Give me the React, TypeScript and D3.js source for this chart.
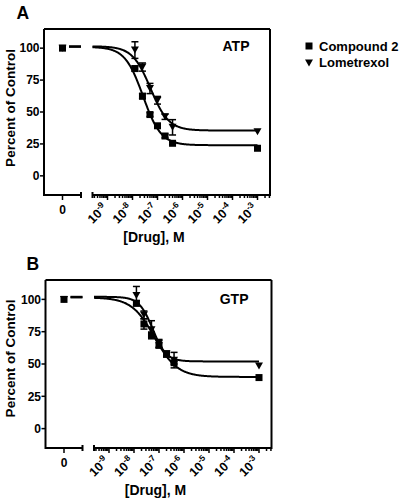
import React from "react";
import * as d3 from "d3";

// ---------- data ----------
const concentrations = [1.25e-8, 2.5e-8, 5e-8, 1e-7, 2e-7, 4e-7, 1e-3];
const controlValue = 100;

const atpCompound2 = [84, 62.4, 48, 39.2, 31.2, 25.5, 21.6];
const atpCompound2Err = [2, 2, 1.5, 1.5, 1.5, 1, 0];
const atpLometrexol = [98.5, 85.2, 68.4, 59.2, 46.2, 38, 34.5];
const atpLometrexolErr = [6.5, 3.2, 4, 3, 2, 6, 0];

const gtpCompound2 = [97, 81, 72.5, 64.5, 57.5, 51, 39.5];
const gtpCompound2Err = [2, 4, 2, 2, 2, 1, 0];
const gtpLometrexol = [103, 88, 76.5, 66, 58, 53, 48.5];
const gtpLometrexolErr = [7, 3, 7, 3, 2, 6, 0];

// fitted sigmoid parameters [top, bottom, logIC50, hill]
const atpCompound2Fit = [101, 24, -7.58, 1.2];
const atpLometrexolFit = [101.5, 35.5, -7.28, 1.2];
const gtpCompound2Fit = [101.5, 40, -7.18, 0.95];
const gtpLometrexolFit = [102, 52, -7.25, 1.6];

const yTicks = [0, 25, 50, 75, 100];
const decadeExponents = [-9, -8, -7, -6, -5, -4, -3];
const seriesNames = ["Compound 2", "Lometrexol"];
const panelNames = ["A", "B"];
const nucleotideNames = ["ATP", "GTP"];

// ---------- helpers ----------
const FONT = "'Liberation Sans', Arial, Helvetica, sans-serif";

function sigmoid(p: number[], logx: number) {
  const [top, bottom, logIC50, hill] = p;
  return bottom + (top - bottom) / (1 + Math.pow(10, (logx - logIC50) * hill));
}

function Square({ x, y, s = 7 }: { x: number; y: number; s?: number }) {
  return <rect x={x - s / 2} y={y - s / 2} width={s} height={s} fill="#000" />;
}
function Tri({ x, y, s = 8 }: { x: number; y: number; s?: number }) {
  const h = s * 0.87;
  return (
    <path
      d={`M${x - s / 2},${y - h / 2}L${x + s / 2},${y - h / 2}L${x},${y + h / 2}Z`}
      fill="#000"
    />
  );
}

type PanelProps = {
  dx: number;
  top: number;
  bottom: number;
  letter: string;
  letterX: number;
  letterY: number;
  nucleotide: string;
  nucX: number;
  nucY: number;
  sq: number[];
  sqErr: number[];
  tr: number[];
  trErr: number[];
  sqFit: number[];
  trFit: number[];
  yTitleY: number;
};

function Panel(p: PanelProps) {
  const left = 44 + p.dx;
  const right = 270 + p.dx;
  const seg1 = d3.scaleLinear().domain([-1, 1]).range([left, 81 + p.dx]);
  const x = d3
    .scaleLog()
    .domain([Math.pow(10, -9.6), Math.pow(10, -2.5)])
    .range([92.5 + p.dx, right]);
  const y = d3.scaleLinear().domain([-15, 115]).range([p.bottom, p.top]);
  const axisY = p.bottom;

  const logs = d3.range(-9.6, -3 + 1e-9, 0.02);
  const curvePath = (fit: number[]) =>
    d3
      .line<number>()
      .x((l) => x(Math.pow(10, l)))
      .y((l) => y(sigmoid(fit, l)))(logs) as string;

  const ticks = x.ticks();
  const majorSet = new Set(decadeExponents);

  const errBar = (cx: number, v: number, e: number, key: string) =>
    e > 0 ? (
      <g key={key} stroke="#000" strokeWidth={1.5}>
        <line x1={cx} x2={cx} y1={y(v + e)} y2={y(v - e)} />
        <line x1={cx - 3.5} x2={cx + 3.5} y1={y(v + e)} y2={y(v + e)} />
        <line x1={cx - 3.5} x2={cx + 3.5} y1={y(v - e)} y2={y(v - e)} />
      </g>
    ) : null;

  return (
    <g fontFamily={FONT} fontWeight="bold">
      <text x={p.letterX} y={p.letterY} fontSize={17.5}>
        {p.letter}
      </text>
      {/* frame */}
      <g stroke="#000" strokeWidth={2} fill="none">
        <line x1={left} x2={left} y1={p.top} y2={axisY + 1} />
        <line x1={left} x2={right} y1={p.top} y2={p.top} />
        <line x1={right} x2={right} y1={p.top} y2={axisY + 1} />
        <line x1={left} x2={seg1(1)} y1={axisY} y2={axisY} />
        <line x1={x.range()[0]} x2={right} y1={axisY} y2={axisY} />
        <line x1={seg1(1)} x2={seg1(1)} y1={axisY - 3} y2={axisY + 3} />
        <line x1={x.range()[0]} x2={x.range()[0]} y1={axisY - 3} y2={axisY + 3} />
        <line x1={seg1(0)} x2={seg1(0)} y1={axisY} y2={axisY + 5} strokeWidth={1.5} />
      </g>
      {/* x ticks */}
      <g stroke="#000" strokeWidth={1.5}>
        {ticks.map((t, i) => {
          const e = Math.log10(t);
          const major = Math.abs(e - Math.round(e)) < 1e-6 && majorSet.has(Math.round(e));
          return <line key={i} x1={x(t)} x2={x(t)} y1={axisY} y2={axisY + (major ? 5 : 3)} />;
        })}
      </g>
      <text x={seg1(0)} y={axisY + 19} fontSize={12} textAnchor="middle">
        0
      </text>
      {decadeExponents.map((e) => {
        const tx = x(Math.pow(10, e)) + 0.5;
        const ty = axisY + 14;
        return (
          <text
            key={e}
            transform={`translate(${tx},${ty}) rotate(-45)`}
            textAnchor="end"
            fontSize={12.5}
          >
            10
            <tspan dy={-5} fontSize={8.5}>
              {String(e)}
            </tspan>
          </text>
        );
      })}
      <text x={154 + p.dx} y={axisY + 47} fontSize={14} textAnchor="middle">
        [Drug], M
      </text>
      {/* y ticks */}
      {yTicks.map((t) => (
        <g key={t}>
          <line x1={left - 4} x2={left} y1={y(t)} y2={y(t)} stroke="#000" strokeWidth={1.5} />
          <text x={left - 4.5} y={y(t) + 4.3} fontSize={12} textAnchor="end">
            {t}
          </text>
        </g>
      ))}
      <text
        transform={`translate(14.5,${p.yTitleY}) rotate(-90)`}
        fontSize={13.5}
        textAnchor="middle"
      >
        Percent of Control
      </text>
      <text x={p.nucX} y={p.nucY} fontSize={14} textAnchor="end">
        {p.nucleotide}
      </text>
      {/* curves */}
      <g stroke="#000" strokeWidth={2} fill="none">
        <path d={curvePath(p.sqFit)} />
        <path d={curvePath(p.trFit)} />
        <line x1={seg1(0.35)} x2={seg1(1)} y1={y(p.sqFit[0])} y2={y(p.sqFit[0])} />
        <line x1={seg1(0.35)} x2={seg1(1)} y1={y(p.trFit[0])} y2={y(p.trFit[0])} />
      </g>
      {/* error bars */}
      {concentrations.map((c, i) => errBar(x(c), p.tr[i], p.trErr[i], "te" + i))}
      {concentrations.map((c, i) => errBar(x(c), p.sq[i], p.sqErr[i], "se" + i))}
      {/* markers */}
      {concentrations.map((c, i) => (
        <Tri key={"t" + i} x={x(c)} y={y(p.tr[i])} />
      ))}
      {concentrations.map((c, i) => (
        <Square key={"s" + i} x={x(c)} y={y(p.sq[i])} />
      ))}
      <Tri x={seg1(0)} y={y(controlValue)} />
      <Square x={seg1(0)} y={y(controlValue)} />
    </g>
  );
}

export default function App() {
  return (
    <svg
      width={408}
      height={498}
      style={{ position: "absolute", left: 0, top: 0, background: "#fff" }}
    >
      <rect width={408} height={498} fill="#fff" />
      <Panel
        dx={0}
        top={29}
        bottom={195}
        letter={panelNames[0]}
        letterX={16.5}
        letterY={19.3}
        nucleotide={nucleotideNames[0]}
        nucX={249.5}
        nucY={50.7}
        sq={atpCompound2}
        sqErr={atpCompound2Err}
        tr={atpLometrexol}
        trErr={atpLometrexolErr}
        sqFit={atpCompound2Fit}
        trFit={atpLometrexolFit}
        yTitleY={108}
      />
      <Panel
        dx={1.5}
        top={280}
        bottom={448}
        letter={panelNames[1]}
        letterX={26.5}
        letterY={270}
        nucleotide={nucleotideNames[1]}
        nucX={248.5}
        nucY={304}
        sq={gtpCompound2}
        sqErr={gtpCompound2Err}
        tr={gtpLometrexol}
        trErr={gtpLometrexolErr}
        sqFit={gtpCompound2Fit}
        trFit={gtpLometrexolFit}
        yTitleY={358.5}
      />
      {/* legend */}
      <g fontFamily={FONT} fontWeight="bold" fontSize={13}>
        <Square x={309} y={46} />
        <text x={319} y={51}>
          {seriesNames[0]}
        </text>
        <Tri x={309} y={63} />
        <text x={319} y={67}>
          {seriesNames[1]}
        </text>
      </g>
    </svg>
  );
}
